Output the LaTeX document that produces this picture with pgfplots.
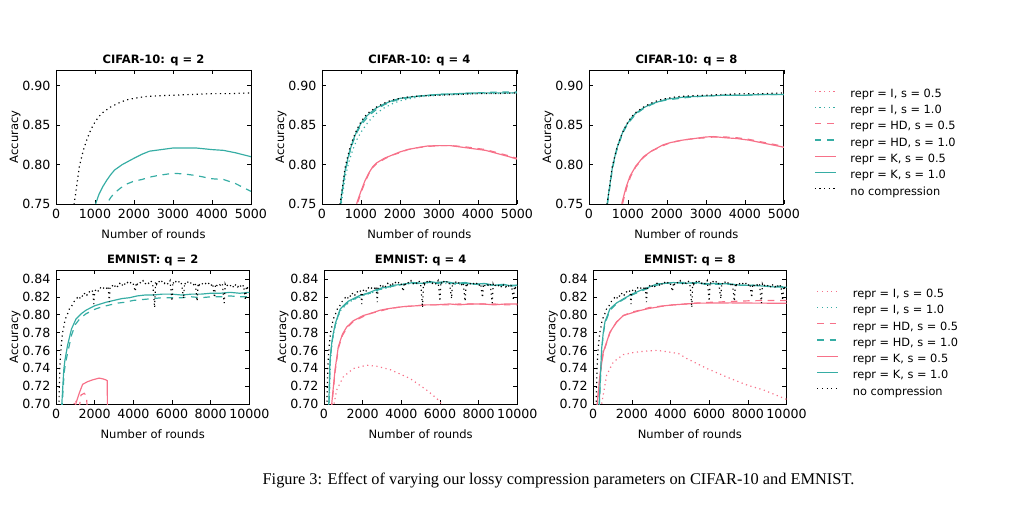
\documentclass[border=0pt]{standalone}
\usepackage{pgfplots}
\usepackage{pgfplotstable}
\pgfplotsset{compat=1.18}
\usepackage{fontspec}
\setmainfont{DejaVu Sans}
\newfontfamily\capfont{Liberation Serif}
\definecolor{pinkc}{HTML}{F77189}
\definecolor{tealc}{HTML}{36ADA4}

% ---------------- CIFAR-10 ----------------
\pgfplotstableread{
x y
400 0.720
450 0.745
500 0.762
600 0.798
700 0.818
800 0.833
900 0.845
1000 0.854
1100 0.861
1200 0.866
1400 0.873
1600 0.878
1800 0.882
2000 0.884
2250 0.886
2500 0.887
3000 0.888
3500 0.889
4000 0.890
4500 0.890
5000 0.891
}\cblack
\pgfplotstableread{
x y
950 0.735
1000 0.748
1100 0.762
1200 0.772
1300 0.780
1400 0.787
1500 0.793
1700 0.800
2000 0.808
2200 0.813
2400 0.817
2700 0.819
3000 0.821
3300 0.821
3600 0.821
4000 0.819
4300 0.818
4600 0.815
5000 0.810
}\ctwoK
\pgfplotstableread{
x y
1250 0.740
1300 0.750
1400 0.758
1500 0.764
1650 0.770
1800 0.775
2000 0.779
2200 0.781
2400 0.784
2600 0.786
3000 0.789
3300 0.788
3600 0.786
4000 0.782
4300 0.781
4600 0.776
4800 0.771
5000 0.766
}\ctwoHD
\pgfplotstableread{
x y
450 0.735
500 0.760
600 0.794
700 0.815
800 0.831
900 0.843
1000 0.852
1100 0.859
1200 0.864
1400 0.872
1600 0.877
1800 0.881
2000 0.884
2500 0.887
3000 0.889
3500 0.890
4000 0.891
4500 0.891
5000 0.891
}\cfourK
\pgfplotstableread{
x y
450 0.733
500 0.758
600 0.792
700 0.813
800 0.829
900 0.841
1000 0.850
1200 0.862
1400 0.870
1600 0.876
1800 0.880
2000 0.883
2500 0.887
3000 0.889
3500 0.890
4000 0.891
4500 0.892
5000 0.892
}\cfourHD
\pgfplotstableread{
x y
450 0.728
500 0.752
600 0.785
700 0.805
800 0.820
900 0.832
1000 0.841
1200 0.855
1400 0.865
1600 0.872
1800 0.877
2000 0.881
2500 0.886
3000 0.888
3500 0.889
4000 0.890
4500 0.890
5000 0.891
}\cfourI
\pgfplotstableread{
x y
850 0.735
900 0.752
1000 0.766
1100 0.779
1200 0.789
1300 0.797
1400 0.802
1600 0.808
1800 0.812
2000 0.816
2200 0.819
2400 0.821
2700 0.8235
3000 0.824
3300 0.824
3600 0.822
3900 0.820
4200 0.818
4500 0.814
4800 0.810
5000 0.807
}\cfourKh
\pgfplotstableread{
x y
870 0.737
920 0.752
1000 0.764
1100 0.777
1200 0.788
1300 0.796
1400 0.801
1600 0.807
1800 0.812
2000 0.815
2200 0.819
2400 0.821
2700 0.823
3000 0.824
3300 0.824
3600 0.823
3900 0.821
4200 0.819
4500 0.815
4800 0.811
5000 0.808
}\cfourHDh
\pgfplotstableread{
x y
430 0.735
480 0.755
600 0.796
700 0.818
800 0.833
900 0.845
1000 0.853
1100 0.860
1200 0.865
1400 0.872
1600 0.877
1800 0.880
2000 0.883
2500 0.886
3000 0.887
3500 0.888
4000 0.888
4500 0.889
5000 0.889
}\ceightK
\pgfplotstableread{
x y
440 0.735
490 0.755
600 0.794
700 0.816
800 0.831
900 0.843
1000 0.852
1200 0.864
1400 0.871
1600 0.876
1800 0.880
2000 0.882
2500 0.885
3000 0.887
3500 0.888
4000 0.888
4500 0.889
5000 0.889
}\ceightHD
\pgfplotstableread{
x y
800 0.735
850 0.752
950 0.771
1050 0.785
1200 0.798
1400 0.810
1600 0.817
1900 0.825
2100 0.828
2400 0.831
2700 0.833
3000 0.835
3200 0.8355
3500 0.834
3800 0.833
4100 0.831
4400 0.828
4700 0.825
5000 0.822
}\ceightKh
\pgfplotstableread{
x y
820 0.735
870 0.752
970 0.771
1070 0.785
1200 0.797
1400 0.809
1600 0.817
1900 0.824
2100 0.828
2400 0.831
2700 0.833
3000 0.834
3200 0.835
3500 0.835
3800 0.834
4100 0.832
4400 0.829
4700 0.826
5000 0.823
}\ceightHDh

% ---------------- EMNIST ----------------
\pgfplotstableread{
x y
100 0.640
150 0.700
200 0.742
250 0.760
300 0.772
350 0.781
400 0.786
450 0.792
500 0.796
600 0.801
700 0.807
800 0.809
900 0.814
1000 0.816
1100 0.819
1200 0.817
1300 0.822
1400 0.820
1500 0.825
1600 0.822
1700 0.826
1800 0.824
1900 0.827
1950 0.812
2000 0.826
2100 0.829
2200 0.826
2300 0.830
2400 0.828
2500 0.831
2600 0.829
2700 0.832
2750 0.814
2800 0.831
2900 0.833
3000 0.830
3100 0.834
3200 0.831
3300 0.835
3400 0.832
3500 0.836
3600 0.833
3700 0.836
3800 0.834
3900 0.837
4000 0.834
4100 0.826
4150 0.836
4200 0.834
4300 0.837
4400 0.835
4500 0.838
4600 0.834
4700 0.837
4800 0.835
4900 0.838
5000 0.835
5100 0.808
5150 0.837
5200 0.834
5300 0.838
5400 0.835
5500 0.838
5600 0.835
5700 0.837
5800 0.834
5900 0.838
6000 0.815
6050 0.837
6100 0.834
6200 0.837
6300 0.835
6400 0.838
6500 0.834
6600 0.818
6650 0.836
6700 0.834
6800 0.837
6900 0.834
7000 0.836
7100 0.833
7200 0.836
7300 0.815
7350 0.835
7400 0.833
7500 0.836
7600 0.834
7700 0.836
7800 0.833
7900 0.835
8000 0.832
8100 0.835
8200 0.819
8250 0.834
8300 0.832
8400 0.835
8500 0.833
8600 0.835
8700 0.813
8750 0.834
8800 0.831
8900 0.834
9000 0.832
9100 0.834
9200 0.830
9300 0.834
9400 0.831
9500 0.834
9600 0.830
9700 0.833
9800 0.816
9850 0.832
9900 0.830
10000 0.833
}\eblack
\pgfplotstableread{
x y
250 0.680
300 0.700
400 0.738
460 0.749
600 0.766
800 0.784
1030 0.795
1300 0.801
1550 0.805
2000 0.810
2300 0.812
2600 0.814
3000 0.816
3400 0.818
3800 0.819
4200 0.821
4600 0.822
5000 0.822
5500 0.823
6000 0.823
6500 0.822
7000 0.823
7500 0.823
8000 0.824
8500 0.824
9000 0.825
9500 0.824
10000 0.825
}\etwoK
\pgfplotstableread{
x y
270 0.680
320 0.700
420 0.735
500 0.747
650 0.762
800 0.777
1000 0.789
1250 0.796
1550 0.801
2000 0.806
2400 0.809
2800 0.811
3200 0.813
3600 0.814
4000 0.816
4500 0.817
5000 0.818
5500 0.819
6000 0.819
6500 0.819
7000 0.820
7500 0.819
8000 0.820
8500 0.820
9000 0.821
9500 0.820
10000 0.820
}\etwoHD
\pgfplotstableread{
x y
990 0.690
1030 0.701
1200 0.712
1375 0.722
1630 0.725
1890 0.727
2230 0.729
2450 0.728
2580 0.727
2650 0.726
2660 0.690
}\etwoKh
\pgfplotstableread{
x y
1200 0.695
1290 0.710
1460 0.712
1580 0.709
1620 0.690
}\etwoHDh
\pgfplotstableread{
x y
850 0.695
950 0.701
1030 0.704
1060 0.690
}\etwoIh
\pgfplotstableread{
x y
200 0.660
250 0.700
310 0.749
400 0.768
480 0.779
600 0.791
830 0.806
1000 0.810
1250 0.815
1520 0.818
1800 0.821
2100 0.823
2380 0.825
2700 0.828
3000 0.830
3300 0.831
3600 0.833
4100 0.834
4600 0.836
5100 0.835
5500 0.837
5800 0.836
6300 0.837
6800 0.835
7300 0.836
7800 0.834
8300 0.835
8800 0.833
9300 0.834
9700 0.832
10000 0.833
}\efourK
\pgfplotstableread{
x y
210 0.660
260 0.700
320 0.748
400 0.767
480 0.778
600 0.790
830 0.805
1000 0.809
1250 0.814
1520 0.817
1800 0.820
2100 0.823
2380 0.824
2700 0.827
3000 0.829
3300 0.831
3600 0.832
4100 0.834
4600 0.835
5100 0.836
5500 0.836
5800 0.835
6300 0.836
6800 0.835
7300 0.835
7800 0.834
8300 0.834
8800 0.833
9300 0.833
9700 0.833
10000 0.833
}\efourHD
\pgfplotstableread{
x y
220 0.660
270 0.700
330 0.746
400 0.765
480 0.777
600 0.789
830 0.804
1000 0.808
1250 0.813
1520 0.817
1800 0.819
2100 0.822
2380 0.824
2700 0.826
3000 0.829
3300 0.830
3600 0.832
4100 0.834
4600 0.835
5100 0.835
5500 0.836
5800 0.835
6300 0.835
6800 0.834
7300 0.835
7800 0.834
8300 0.833
8800 0.833
9300 0.832
9700 0.833
10000 0.832
}\efourI
\pgfplotstableread{
x y
360 0.680
400 0.700
570 0.738
740 0.764
950 0.778
1170 0.786
1500 0.793
2030 0.799
2500 0.802
2900 0.805
3400 0.807
4100 0.809
4800 0.810
5300 0.811
5800 0.811
6500 0.812
7000 0.811
7550 0.812
8200 0.812
8800 0.811
9400 0.812
10000 0.812
}\efourKh
\pgfplotstableread{
x y
370 0.680
410 0.700
580 0.737
750 0.763
960 0.777
1180 0.785
1500 0.792
2030 0.798
2500 0.802
2900 0.804
3400 0.807
4100 0.809
4800 0.810
5300 0.811
5800 0.811
6500 0.811
7000 0.812
7550 0.812
8200 0.812
8800 0.812
9400 0.811
10000 0.811
}\efourHDh
\pgfplotstableread{
x y
480 0.690
520 0.700
655 0.7156
1000 0.7305
1520 0.7397
2200 0.7434
2720 0.7423
3410 0.7386
4450 0.7286
5310 0.7156
5830 0.7063
6090 0.700
6200 0.696
}\efourIh
\pgfplotstableread{
x y
250 0.670
311 0.700
436 0.762
520 0.780
607 0.792
867 0.8066
1200 0.813
1557 0.8177
2000 0.823
2424 0.827
2900 0.831
3290 0.8344
3700 0.835
4150 0.836
4700 0.835
5360 0.836
5800 0.834
6300 0.835
7090 0.8344
7600 0.833
8200 0.833
8800 0.832
9400 0.831
10000 0.8307
}\eeightK
\pgfplotstableread{
x y
260 0.670
320 0.700
440 0.760
520 0.778
607 0.790
867 0.805
1200 0.812
1557 0.817
2000 0.822
2424 0.826
2900 0.830
3290 0.833
3700 0.835
4150 0.836
4700 0.836
5360 0.835
5800 0.835
6300 0.834
7090 0.834
7600 0.833
8200 0.833
8800 0.832
9400 0.832
10000 0.831
}\eeightHD
\pgfplotstableread{
x y
180 0.680
207 0.700
347 0.7323
519 0.758
867 0.7805
1210 0.7917
1557 0.799
2000 0.802
2424 0.8047
2900 0.807
3290 0.8084
3700 0.810
4150 0.811
4800 0.812
5360 0.8129
6200 0.813
7090 0.8132
8000 0.813
9000 0.8129
10000 0.8129
}\eeightKh
\pgfplotstableread{
x y
185 0.680
212 0.700
350 0.7320
519 0.757
867 0.780
1210 0.792
1557 0.799
2000 0.803
2424 0.805
2900 0.808
3290 0.809
3700 0.810
4150 0.811
4800 0.812
5360 0.813
6200 0.814
7090 0.8147
8000 0.8155
8820 0.8159
10000 0.8159
}\eeightHDh
\pgfplotstableread{
x y
400 0.690
436 0.700
694 0.7323
1038 0.747
1557 0.7553
2076 0.7576
2595 0.759
3290 0.7601
3980 0.758
4410 0.7565
4840 0.7509
5880 0.7397
7090 0.7286
7960 0.7212
8820 0.7156
10000 0.7052
}\eeightIh

\tikzset{
 pk/.style={color=pinkc, line width=0.75pt},
 tl/.style={color=tealc, line width=0.75pt},
 bk/.style={color=black, line width=0.75pt},
 dotl/.style={dash pattern=on 0.75pt off 2.2pt},
 dashl/.style={dash pattern=on 4.2pt off 3.6pt},
}

\pgfplotsset{
 base/.style={
  scale only axis, anchor=north west, height=84.9pt, no markers,
  xlabel={Number of rounds}, ylabel={Accuracy},
  xmin=0,
  tick align=inside, major tick length=2.6pt,
  tick style={black, line width=0.4pt},
  axis line style={line width=0.5pt},
  tick label style={font=\fontsize{8}{9}\selectfont},
  label style={font=\fontsize{7.3}{8.5}\selectfont},
  ylabel style={yshift=-5.7pt},
  every axis title shift=0pt,
  title style={font=\bfseries\fontsize{7.3}{8.5}\selectfont, at={(0.5,1)}, anchor=base, yshift=4pt},
  yticklabel style={/pgf/number format/.cd, fixed, fixed zerofill, precision=2},
  xticklabel style={/pgf/number format/.cd, 1000 sep={}},
  /pgf/number format/assume math mode=true,
  scaled x ticks=false, scaled y ticks=false,
  minor tick num=0,
 },
 cifar/.style={base, width=123.5pt, xmax=5000, ymin=0.75, ymax=0.92,
   xtick={0,1000,2000,3000,4000,5000}, ytick={0.75,0.80,0.85,0.90}},
 emnist/.style={base, width=122.5pt, xmax=10000, ymin=0.70, ymax=0.85,
   xtick={0,2000,4000,6000,8000,10000}, ytick={0.70,0.72,0.74,0.76,0.78,0.80,0.82,0.84}},
 leg/.style={
   legend style={at={(1.154,0.862)}, anchor=north west, draw=none, fill=none, inner sep=0pt,
     font=\fontsize{7.2}{8}\selectfont, row sep=3.3pt,
     nodes={inner xsep=0pt, inner ysep=0pt, text height=5.5pt, text depth=1.5pt},
     /tikz/every odd column/.append style={column sep=8.9pt}},
   legend cell align=left,
   legend image code/.code={\draw[##1] (0pt,2pt) -- (13.3pt,2pt);},
 },
}

\newcommand{\legentries}{%
  \addlegendimage{pk, dotl}\addlegendentry{repr = I, s = 0.5}
  \addlegendimage{tl, dotl}\addlegendentry{repr = I, s = 1.0}
  \addlegendimage{pk, dashl}\addlegendentry{repr = HD, s = 0.5}
  \addlegendimage{tl, dashl}\addlegendentry{repr = HD, s = 1.0}
  \addlegendimage{pk}\addlegendentry{repr = K, s = 0.5}
  \addlegendimage{tl}\addlegendentry{repr = K, s = 1.0}
  \addlegendimage{bk, dotl}\addlegendentry{no compression}
}

\begin{document}
\begin{tikzpicture}
\path[use as bounding box] (0pt,0pt) rectangle (640pt,-321.2pt);

% CIFAR q=2
\begin{axis}[cifar, at={(35.5pt,-44.35pt)}, title={CIFAR-10: q = 2}]
\addplot[tl, dashl] table {\ctwoHD};
\addplot[tl] table {\ctwoK};
\addplot[bk, dotl] table {\cblack};
\end{axis}

% CIFAR q=4
\begin{axis}[cifar, at={(204.0pt,-44.35pt)}, title={CIFAR-10: q = 4}]
\addplot[tl, dotl] table {\cfourI};
\addplot[pk, dashl] table {\cfourHDh};
\addplot[tl, dashl] table {\cfourHD};
\addplot[pk] table {\cfourKh};
\addplot[tl] table {\cfourK};
\addplot[bk, dotl] table {\cblack};
\end{axis}

% CIFAR q=8
\begin{axis}[cifar, leg, at={(373.2pt,-44.35pt)}, title={CIFAR-10: q = 8}]
\legentries
\addplot[pk, dashl, forget plot] table {\ceightHDh};
\addplot[tl, dashl, forget plot] table {\ceightHD};
\addplot[pk, forget plot] table {\ceightKh};
\addplot[tl, forget plot] table {\ceightK};
\addplot[bk, dotl, forget plot] table {\cblack};
\end{axis}

% EMNIST q=2
\begin{axis}[emnist, at={(35.5pt,-171.1pt)}, title={EMNIST: q = 2}]
\addplot[pk, dotl] table {\etwoIh};
\addplot[pk, dashl] table {\etwoHDh};
\addplot[tl, dashl] table {\etwoHD};
\addplot[pk] table {\etwoKh};
\addplot[tl] table {\etwoK};
\addplot[bk, dotl] table {\eblack};
\end{axis}

% EMNIST q=4
\begin{axis}[emnist, at={(205.3pt,-171.1pt)}, title={EMNIST: q = 4}]
\addplot[pk, dotl] table {\efourIh};
\addplot[tl, dotl] table {\efourI};
\addplot[pk, dashl] table {\efourHDh};
\addplot[tl, dashl] table {\efourHD};
\addplot[pk] table {\efourKh};
\addplot[tl] table {\efourK};
\addplot[bk, dotl] table {\eblack};
\end{axis}

% EMNIST q=8
\begin{axis}[emnist, leg, at={(375.9pt,-171.1pt)}, title={EMNIST: q = 8}]
\legentries
\addplot[pk, dotl, forget plot] table {\eeightIh};
\addplot[pk, dashl, forget plot] table {\eeightHDh};
\addplot[tl, dashl, forget plot] table {\eeightHD};
\addplot[pk, forget plot] table {\eeightKh};
\addplot[tl, forget plot] table {\eeightK};
\addplot[bk, dotl, forget plot] table {\eblack};
\end{axis}

\node[anchor=base, font=\capfont\fontsize{10.37}{12}\selectfont] at (353.9pt,-307.3pt)
  {Figure 3: Effect of varying our lossy compression parameters on CIFAR-10 and EMNIST.};
\end{tikzpicture}
\end{document}
